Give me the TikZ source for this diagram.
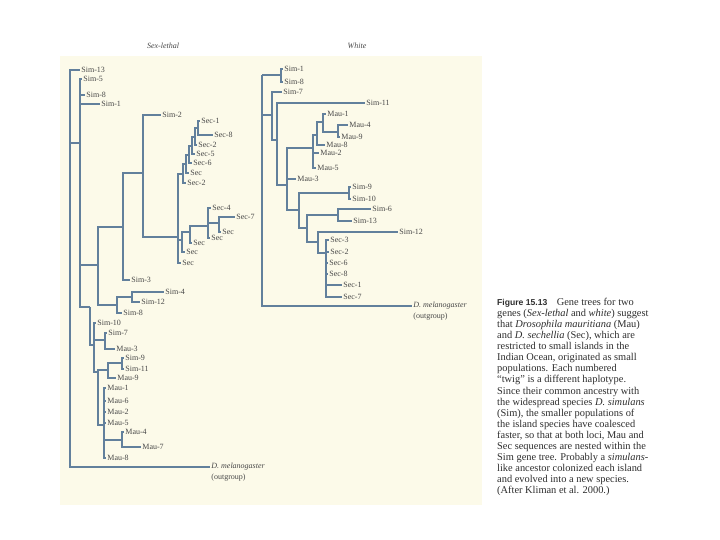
\documentclass[tikz,border=0pt]{standalone}
\usepackage{fontspec}
\setmainfont{Liberation Serif}
\newfontfamily\capsans{Liberation Sans}
\definecolor{lc}{RGB}{98,128,156}
\definecolor{tc}{RGB}{72,72,72}
\definecolor{captc}{RGB}{45,45,45}
\definecolor{panel}{RGB}{252,250,233}
\begin{document}
\begin{tikzpicture}[x=1pt,y=-1pt,
  br/.style={draw=lc, line width=1.35pt},
  lf/.style={anchor=west, inner sep=1.2pt, text=tc, font=\fontsize{8}{9}\selectfont},
  ttl/.style={text=tc, font=\fontsize{8}{9}\selectfont\itshape},
]
\useasboundingbox (0,0) rectangle (720,540);
\fill[panel] (60,56) rectangle (482,505);

% titles
\node[ttl] (t1) at (163,46) {Sex-lethal};
\node[ttl] (t2) at (357,46) {White};

% ---------------- LEFT TREE (Sex-lethal) ----------------
\node[lf] (LSim13) at (80,70) {Sim-13};
\node[lf] (LSim5) at (82,79) {Sim-5};
\node[lf] (LSim8a) at (85,95) {Sim-8};
\node[lf] (LSim1) at (100,104) {Sim-1};
\node[lf] (LSim2) at (161,115) {Sim-2};
\node[lf] (LSec1) at (200,121) {Sec-1};
\node[lf] (LSec8) at (213,135) {Sec-8};
\node[lf] (LSec2a) at (197,145) {Sec-2};
\node[lf] (LSec5) at (195,154) {Sec-5};
\node[lf] (LSec6) at (192,163) {Sec-6};
\node[lf] (LSeca) at (189,173) {Sec};
\node[lf] (LSec2b) at (186,183) {Sec-2};
\node[lf] (LSec4) at (211,208) {Sec-4};
\node[lf] (LSec7) at (235,217) {Sec-7};
\node[lf] (LSecb) at (221,232) {Sec};
\node[lf] (LSecc) at (210,238) {Sec};
\node[lf] (LSecd) at (192,243) {Sec};
\node[lf] (LSece) at (185,252) {Sec};
\node[lf] (LSecf) at (181,263) {Sec};
\node[lf] (LSim3) at (130,280) {Sim-3};
\node[lf] (LSim4) at (164,292) {Sim-4};
\node[lf] (LSim12) at (140,302) {Sim-12};
\node[lf] (LSim8b) at (122,313) {Sim-8};
\node[lf] (LSim10) at (96,323) {Sim-10};
\node[lf] (LSim7) at (107,333) {Sim-7};
\node[lf] (LMau3) at (115,349) {Mau-3};
\node[lf] (LSim9) at (124,358) {Sim-9};
\node[lf] (LSim11) at (124,369) {Sim-11};
\node[lf] (LMau9) at (116,378) {Mau-9};
\node[lf] (LMau1) at (106,388) {Mau-1};
\node[lf] (LMau6) at (106,401) {Mau-6};
\node[lf] (LMau2) at (106,412) {Mau-2};
\node[lf] (LMau5) at (106,423) {Mau-5};
\node[lf] (LMau4) at (124,432) {Mau-4};
\node[lf] (LMau7) at (141,447) {Mau-7};
\node[lf] (LMau8) at (106,458) {Mau-8};
\node[lf] (Lout) at (210,467) {\itshape D. melanogaster};
\node[lf] (Loutg) at (210,478) {(outgroup)};

\coordinate (Lroot) at (70,143);
\coordinate (NB) at (80,143);
\coordinate (N98) at (98,265);
\coordinate (N123) at (123,227);
\coordinate (N143) at (143,173);
\coordinate (T) at (178,237);
\coordinate (s6) at (183,174);
\coordinate (s5) at (186,164);
\coordinate (s4) at (189,155);
\coordinate (s3) at (192,146);
\coordinate (s2) at (195,137);
\coordinate (s1) at (198,128);
\coordinate (u1) at (182,240);
\coordinate (u2) at (190,232);
\coordinate (u3) at (208,226);
\coordinate (u4) at (219,223);
\coordinate (N118) at (117,305);
\coordinate (N132) at (132,297);
\coordinate (NE) at (90,307);
\coordinate (N94) at (94,345);
\coordinate (N105) at (105,340);
\coordinate (N98m) at (98,372);
\coordinate (N108) at (108,370);
\coordinate (N122) at (122,363);
\coordinate (N104) at (104,425);
\coordinate (N122b) at (122,440);

\draw[br] (Lroot) |- (LSim13.west) (Lroot) |- (NB) (Lroot) |- (Lout.west);
\draw[br] (NB) |- (LSim5.west) (NB) |- (LSim8a.west) (NB) |- (LSim1.west) (NB) |- (N98) (NB) |- (NE);
\draw[br] (N98) |- (N123) (N98) |- (N118);
\draw[br] (N123) |- (N143) (N123) |- (LSim3.west);
\draw[br] (N143) |- (LSim2.west) (N143) |- (T);
\draw[br] (T) |- (s6) (T) |- (u1) (T) |- (LSecf.west);
\draw[br] (s6) |- (s5) (s6) |- (LSec2b.west);
\draw[br] (s5) |- (s4) (s5) |- (LSeca.west);
\draw[br] (s4) |- (s3) (s4) |- (LSec6.west);
\draw[br] (s3) |- (s2) (s3) |- (LSec5.west);
\draw[br] (s2) |- (s1) (s2) |- (LSec2a.west);
\draw[br] (s1) |- (LSec1.west) (s1) |- (LSec8.west);
\draw[br] (u1) |- (u2) (u1) |- (LSece.west);
\draw[br] (u2) |- (u3) (u2) |- (LSecd.west);
\draw[br] (u3) |- (LSec4.west) (u3) |- (u4) (u3) |- (LSecc.west);
\draw[br] (u4) |- (LSec7.west) (u4) |- (LSecb.west);
\draw[br] (N118) |- (N132) (N118) |- (LSim8b.west);
\draw[br] (N132) |- (LSim4.west) (N132) |- (LSim12.west);
\draw[br] (NE) |- (N94);
\draw[br] (N94) |- (LSim10.west) (N94) |- (N105) (N94) |- (N98m);
\draw[br] (N105) |- (LSim7.west) (N105) |- (LMau3.west);
\draw[br] (N98m) |- (N108) (N98m) |- (N104);
\draw[br] (N108) |- (N122) (N108) |- (LMau9.west);
\draw[br] (N122) |- (LSim9.west) (N122) |- (LSim11.west);
\draw[br] (N104) |- (LMau1.west) (N104) |- (LMau6.west) (N104) |- (LMau2.west)
          (N104) |- (LMau5.west) (N104) |- (N122b) (N104) |- (LMau8.west);
\draw[br] (N122b) |- (LMau4.west) (N122b) |- (LMau7.west);

% ---------------- RIGHT TREE (White) ----------------
\node[lf] (RSim1) at (283,69) {Sim-1};
\node[lf] (RSim8) at (283,82) {Sim-8};
\node[lf] (RSim7) at (282,92) {Sim-7};
\node[lf] (RSim11) at (365,103) {Sim-11};
\node[lf] (RMau1) at (326,114) {Mau-1};
\node[lf] (RMau4) at (348,125) {Mau-4};
\node[lf] (RMau9) at (340,137) {Mau-9};
\node[lf] (RMau8) at (325,145) {Mau-8};
\node[lf] (RMau2) at (319,153) {Mau-2};
\node[lf] (RMau5) at (316,168) {Mau-5};
\node[lf] (RMau3) at (296,179) {Mau-3};
\node[lf] (RSim9) at (351,187) {Sim-9};
\node[lf] (RSim10) at (351,199) {Sim-10};
\node[lf] (RSim6) at (371,209) {Sim-6};
\node[lf] (RSim13) at (352,221) {Sim-13};
\node[lf] (RSim12) at (398,232) {Sim-12};
\node[lf] (RSec3) at (329,240) {Sec-3};
\node[lf] (RSec2) at (329,252) {Sec-2};
\node[lf] (RSec6) at (328,263) {Sec-6};
\node[lf] (RSec8) at (328,274) {Sec-8};
\node[lf] (RSec1) at (342,285) {Sec-1};
\node[lf] (RSec7) at (342,297) {Sec-7};
\node[lf] (Rout) at (412,306) {\itshape D. melanogaster};
\node[lf] (Routg) at (412,317) {(outgroup)};

\coordinate (Rroot) at (262,75);
\coordinate (W1) at (281,75);
\coordinate (W2) at (272,115);
\coordinate (W3) at (277,140);
\coordinate (W4) at (287,185);
\coordinate (M1) at (313,148);
\coordinate (M2) at (317,135);
\coordinate (M3) at (323,122);
\coordinate (M4) at (338,132);
\coordinate (W5) at (299,210);
\coordinate (W6) at (349,193);
\coordinate (W7) at (307,228);
\coordinate (W8) at (338,215);
\coordinate (W9) at (318,242);
\coordinate (W10) at (326,253);

\draw[br] (Rroot) |- (W1) (Rroot) |- (W2) (Rroot) |- (Rout.west);
\draw[br] (W1) |- (RSim1.west) (W1) |- (RSim8.west);
\draw[br] (W2) |- (RSim7.west) (W2) |- (W3);
\draw[br] (W3) |- (RSim11.west) (W3) |- (W4);
\draw[br] (W4) |- (M1) (W4) |- (RMau3.west) (W4) |- (W5);
\draw[br] (M1) |- (M2) (M1) |- (RMau2.west) (M1) |- (RMau5.west);
\draw[br] (M2) |- (M3) (M2) |- (RMau8.west);
\draw[br] (M3) |- (RMau1.west) (M3) |- (M4);
\draw[br] (M4) |- (RMau4.west) (M4) |- (RMau9.west);
\draw[br] (W5) |- (W6) (W5) |- (W7);
\draw[br] (W6) |- (RSim9.west) (W6) |- (RSim10.west);
\draw[br] (W7) |- (W8) (W7) |- (W9);
\draw[br] (W8) |- (RSim6.west) (W8) |- (RSim13.west);
\draw[br] (W9) |- (RSim12.west) (W9) |- (W10);
\draw[br] (W10) |- (RSec3.west) (W10) |- (RSec2.west) (W10) |- (RSec6.west)
          (W10) |- (RSec8.west) (W10) |- (RSec1.west) (W10) |- (RSec7.west);

% ---------------- CAPTION ----------------
\node[anchor=north west, inner sep=0, align=left, text=captc,
      font=\fontsize{10.4}{11.06}\selectfont] (cap) at (497,298)
{{\capsans\bfseries\fontsize{8.6}{11}\selectfont Figure 15.13}\hspace{0.9em}Gene trees for two\\
genes (\textit{Sex-lethal} and \textit{white}) suggest\\
that \textit{Drosophila mauritiana} (Mau)\\
and \textit{D. sechellia} (Sec), which are\\
restricted to small islands in the\\
Indian Ocean, originated as small\\
populations. Each numbered\\
“twig” is a different haplotype.\\
Since their common ancestry with\\
the widespread species \textit{D. simulans}\\
(Sim), the smaller populations of\\
the island species have coalesced\\
faster, so that at both loci, Mau and\\
Sec sequences are nested within the\\
Sim gene tree. Probably a \textit{simulans}-\\
like ancestor colonized each island\\
and evolved into a new species.\\
(After Kliman et al. 2000.)};
\end{tikzpicture}
\end{document}
